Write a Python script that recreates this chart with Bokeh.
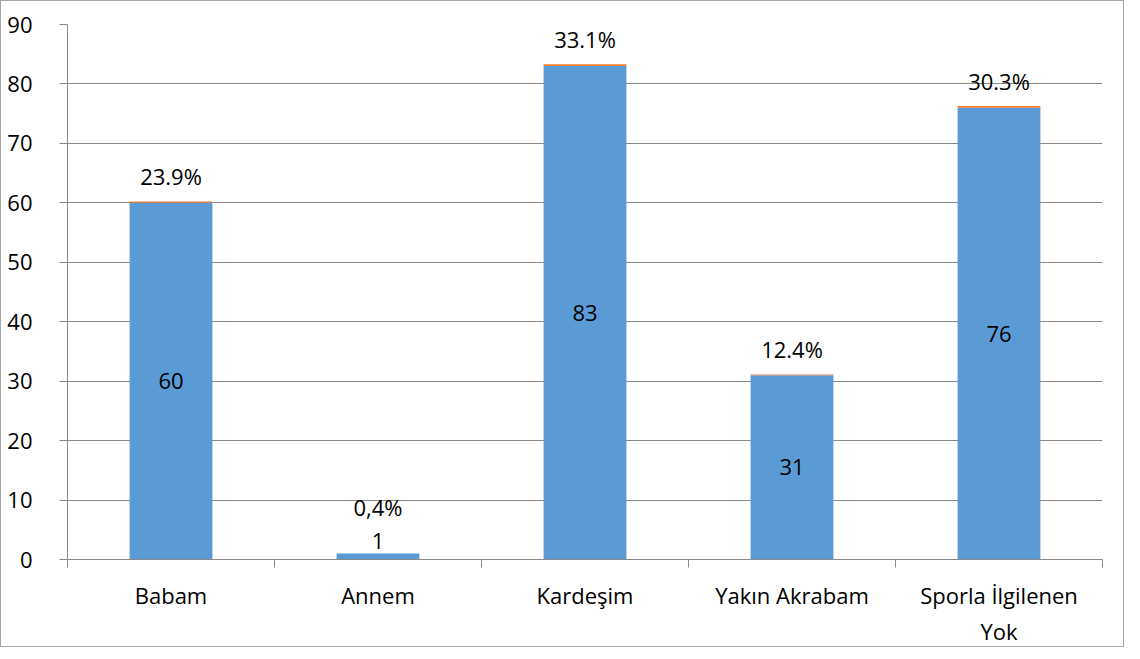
from bokeh.plotting import figure
from bokeh.models import ColumnDataSource, Range1d, FixedTicker
from bokeh.core.properties import value
from bokeh.embed import file_html
from bokeh.resources import INLINE

categories = ["Babam", "Annem", "Kardeşim", "Yakın Akrabam", "Sporla İlgilenen\nYok"]
counts = [60, 1, 83, 31, 76]
percents = [23.9, 0.4, 33.1, 12.4, 30.3]
pct_labels = ["23.9%", "0,4%", "33.1%", "12.4%", "30.3%"]
count_labels = [str(c) for c in counts]
y_ticks = [0, 10, 20, 30, 40, 50, 60, 70, 80, 90]

FONT = "Open Sans"
FS = "22px"
GRID = "#898989"

n = len(categories)
xs = list(range(1, n + 1))
share = [v / 100 for v in percents]
tops = [c + s for c, s in zip(counts, share)]
small = [c < 5 for c in counts]
count_y = [t if sm else c / 2 for t, c, sm in zip(tops, counts, small)]
count_off = [-13 if sm else 0 for sm in small]
pct_off = [-47 if sm else -25 for sm in small]

src = ColumnDataSource(dict(x=xs, count=counts, share=share, top=tops,
                            cy=count_y, coff=count_off, poff=pct_off,
                            clab=count_labels, plab=pct_labels))

p = figure(width=1124, height=647, output_backend="svg", toolbar_location=None,
           x_range=Range1d(0.5, n + 0.5), y_range=Range1d(0, 90),
           min_border_left=66, min_border_right=23, min_border_top=23,
           min_border_bottom=84)
p.outline_line_color = None
p.styles = {"border": "1px solid #A6A6A6", "box-sizing": "border-box"}

p.vbar_stack(["count", "share"], x="x", width=0.4, source=src,
             color=["#5B9BD5", "#ED7D31"], line_color=None)

p.text(x="x", y="cy", text="clab", source=src, y_offset="coff",
       text_align="center", text_baseline="middle",
       text_font=value(FONT), text_font_size=FS, text_color="black")
p.text(x="x", y="top", text="plab", source=src, y_offset="poff",
       text_align="center", text_baseline="middle",
       text_font=value(FONT), text_font_size=FS, text_color="black")

# y axis
ya = p.yaxis[0]
ya.ticker = FixedTicker(ticks=y_ticks)
ya.axis_line_color = GRID
ya.major_tick_line_color = GRID
ya.major_tick_in = 0
ya.major_tick_out = 8
ya.minor_tick_line_color = None
ya.major_label_standoff = 27
ya.major_label_text_font = FONT
ya.major_label_text_font_size = FS
ya.major_label_text_color = "black"

# x axis
xa = p.xaxis[0]
xa.ticker = FixedTicker(ticks=xs, minor_ticks=[i + 0.5 for i in range(n + 1)])
xa.major_label_overrides = {i: c for i, c in zip(xs, categories)}
xa.axis_line_color = GRID
xa.major_tick_line_color = None
xa.minor_tick_line_color = GRID
xa.minor_tick_in = 0
xa.minor_tick_out = 8
xa.major_label_standoff = 12
xa.major_label_text_font = FONT
xa.major_label_text_font_size = FS
xa.major_label_text_color = "black"

p.xgrid.grid_line_color = None
p.ygrid.grid_line_color = GRID
p.ygrid.ticker = FixedTicker(ticks=y_ticks)

open("out.html", "w").write(file_html(p, INLINE))
